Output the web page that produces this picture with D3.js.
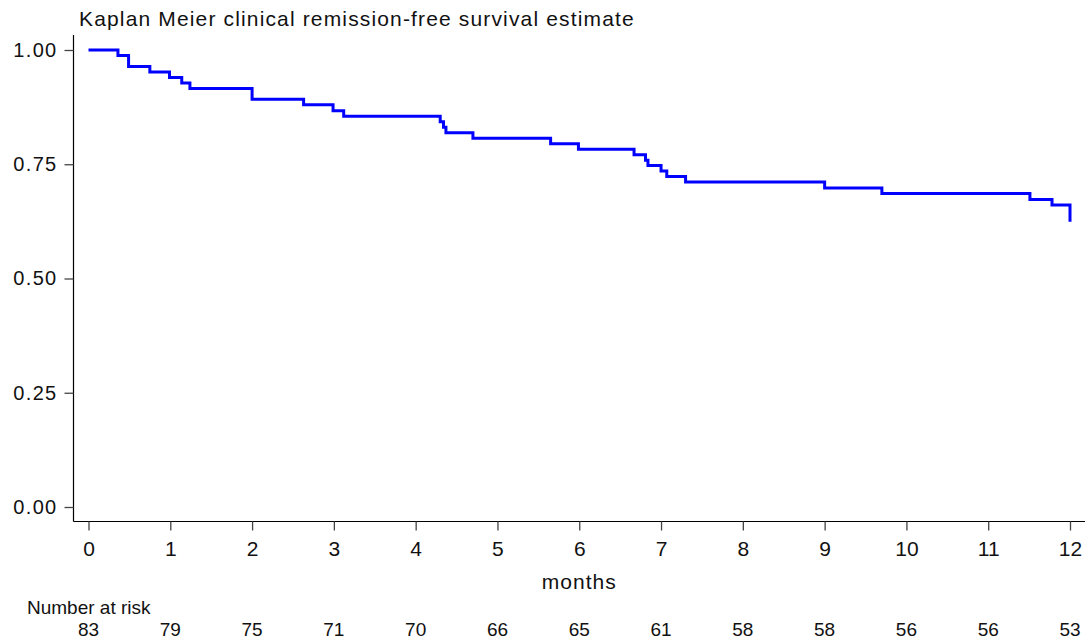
<!DOCTYPE html>
<html>
<head>
<meta charset="utf-8">
<script src="https://cdn.jsdelivr.net/npm/d3@7"></script>
<style>
  html, body { margin: 0; padding: 0; background: #fff; }
  svg { display: block; }
  text { font-family: "Liberation Sans", Arial, Helvetica, sans-serif; fill: #111; }
</style>
</head>
<body>
<svg id="chart" width="1089" height="643"></svg>
<script>
// Kaplan–Meier step estimate: event times (months) and survival after each event
const eventTimes = [0, 0.36, 0.49, 0.75, 0.99, 1.14, 1.24, 2.0, 2.63, 2.99, 3.12,
  4.30, 4.34, 4.37, 4.70, 5.65, 5.99, 6.67, 6.81, 6.84, 7.00, 7.07, 7.30,
  9.0, 9.70, 11.51, 11.78, 12.0];
const survival = [1.000, 0.988, 0.964, 0.952, 0.940, 0.928, 0.916, 0.892, 0.880, 0.867, 0.855,
  0.843, 0.831, 0.819, 0.807, 0.795, 0.783, 0.771, 0.759, 0.747, 0.735, 0.723, 0.711,
  0.698, 0.686, 0.673, 0.661, 0.624];

// Axis ticks and the number-at-risk table below the plot
const monthTicks = [0, 1, 2, 3, 4, 5, 6, 7, 8, 9, 10, 11, 12];
const survivalTicks = [0, 0.25, 0.5, 0.75, 1];
const numberAtRisk = [83, 79, 75, 71, 70, 66, 65, 61, 58, 58, 56, 56, 53];

const titleText = "Kaplan Meier clinical remission-free survival estimate";
const xTitle = "months";
const riskTitle = "Number at risk";

const svg = d3.select("#chart");

const x = d3.scaleLinear().domain([0, 12]).range([88.5, 1070]);
const y = d3.scaleLinear().domain([0, 1]).range([507, 50]);

const frameLeft = 73.5, frameBottom = 521.5, frameTop = 35, frameRight = 1085;

// Axis frame lines
svg.append("line")
  .attr("x1", frameLeft).attr("x2", frameLeft)
  .attr("y1", frameTop).attr("y2", frameBottom)
  .attr("stroke", "#000").attr("stroke-width", 1.2);
svg.append("line")
  .attr("x1", frameLeft).attr("x2", frameRight)
  .attr("y1", frameBottom).attr("y2", frameBottom)
  .attr("stroke", "#000").attr("stroke-width", 1.2);

// Y axis
const yAxis = d3.axisLeft(y)
  .tickValues(survivalTicks)
  .tickFormat(d3.format(".2f"))
  .tickSize(9)
  .tickPadding(7);
const gy = svg.append("g").attr("transform", `translate(${frameLeft},0)`).call(yAxis);
gy.select(".domain").remove();
gy.selectAll(".tick line").attr("stroke", "#444").attr("stroke-width", 1.3);
gy.selectAll(".tick text")
  .style("font-size", "20px")
  .style("letter-spacing", "1.3px")
  .attr("fill", "#111");

// X axis
const xAxis = d3.axisBottom(x)
  .tickValues(monthTicks)
  .tickFormat(d3.format("d"))
  .tickSize(9)
  .tickPadding(11);
const gx = svg.append("g").attr("transform", `translate(0,${frameBottom})`).call(xAxis);
gx.select(".domain").remove();
gx.selectAll(".tick line").attr("stroke", "#444").attr("stroke-width", 1.3);
gx.selectAll(".tick text")
  .style("font-size", "21px")
  .attr("fill", "#111");

// Survival curve
const line = d3.line()
  .x((d, i) => x(eventTimes[i]))
  .y(d => y(d))
  .curve(d3.curveStepAfter);
svg.append("path")
  .datum(survival)
  .attr("d", line)
  .attr("fill", "none")
  .attr("stroke", "#0000ff")
  .attr("stroke-width", 3);

// Title
svg.append("text")
  .attr("x", 79).attr("y", 26)
  .style("font-size", "21px")
  .style("letter-spacing", "1.15px")
  .text(titleText);

// X axis title
svg.append("text")
  .attr("x", (x(0) + x(12)) / 2).attr("y", 589)
  .attr("text-anchor", "middle")
  .style("font-size", "21px")
  .style("letter-spacing", "1px")
  .text(xTitle);

// Number at risk
svg.append("text")
  .attr("x", 27).attr("y", 614)
  .style("font-size", "19px")
  .text(riskTitle);
svg.append("g").selectAll("text")
  .data(numberAtRisk)
  .join("text")
  .attr("x", (d, i) => x(monthTicks[i]))
  .attr("y", 636)
  .attr("text-anchor", "middle")
  .style("font-size", "19px")
  .text(d => d);
</script>
</body>
</html>
